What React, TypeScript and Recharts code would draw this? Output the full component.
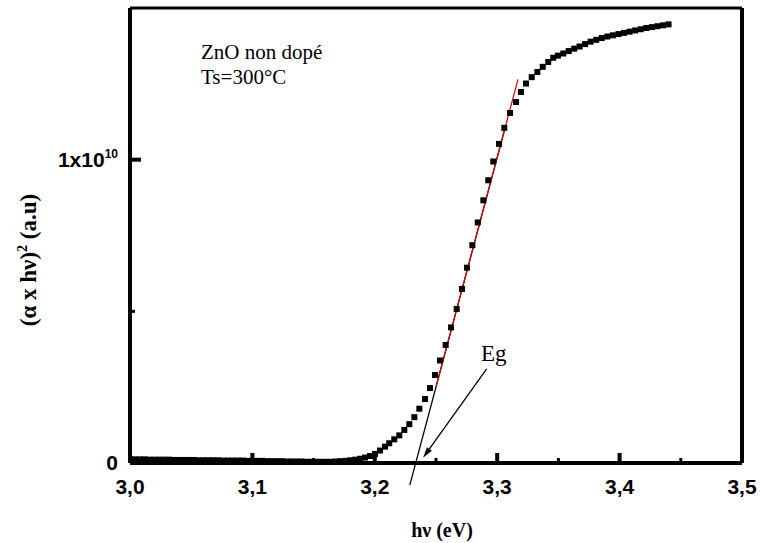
import { ScatterChart, Scatter, XAxis, YAxis, ReferenceLine } from 'recharts';

// (alpha x hv)^2 vs photon energy for undoped ZnO, Tauc plot. Values in units of 1e10.
const HV = [
  3.000, 3.004, 3.008, 3.012, 3.016, 3.020, 3.024, 3.028, 3.032, 3.036,
  3.040, 3.044, 3.048, 3.052, 3.056, 3.060, 3.064, 3.068, 3.072, 3.076,
  3.080, 3.084, 3.088, 3.092, 3.096, 3.100, 3.104, 3.108, 3.112, 3.116,
  3.120, 3.124, 3.128, 3.132, 3.136, 3.140, 3.144, 3.148, 3.152, 3.156,
  3.160, 3.164, 3.168, 3.172, 3.176, 3.180, 3.184, 3.188, 3.192,
  3.1961, 3.2002, 3.2042, 3.2083, 3.2118, 3.2159, 3.2200, 3.2241, 3.2282, 3.2323,
  3.2364, 3.2410, 3.2451, 3.2492, 3.2533, 3.2579, 3.2623, 3.2669, 3.2712, 3.2753,
  3.2797, 3.2841, 3.2887, 3.2927, 3.2968, 3.3015, 3.3058, 3.3105, 3.3154, 3.3194,
  3.3235, 3.3282, 3.3328, 3.3372, 3.3417, 3.3458, 3.3496,
  3.3540, 3.3584, 3.3629, 3.3673, 3.3718, 3.3763, 3.3809, 3.3854, 3.3900, 3.3945,
  3.3991, 3.4036, 3.4082, 3.4127, 3.4173, 3.4218, 3.4264, 3.4309, 3.4355, 3.4400,
];
const ALPHA_HV2 = [
  0.012, 0.012, 0.012, 0.012, 0.011, 0.011, 0.011, 0.011, 0.011, 0.010,
  0.010, 0.010, 0.010, 0.010, 0.009, 0.009, 0.009, 0.009, 0.009, 0.008,
  0.008, 0.008, 0.008, 0.008, 0.007, 0.007, 0.007, 0.007, 0.006, 0.006,
  0.006, 0.006, 0.005, 0.005, 0.005, 0.005, 0.004, 0.004, 0.004, 0.004,
  0.004, 0.004, 0.005, 0.006, 0.007, 0.009, 0.011, 0.014, 0.018,
  0.023, 0.030, 0.041, 0.054, 0.065, 0.078, 0.091, 0.109, 0.128, 0.151,
  0.179, 0.211, 0.247, 0.290, 0.338, 0.389, 0.447, 0.508, 0.574, 0.644,
  0.718, 0.793, 0.866, 0.932, 0.994, 1.052, 1.105, 1.154, 1.190, 1.223,
  1.251, 1.272, 1.289, 1.306, 1.322, 1.336, 1.343,
  1.350, 1.358, 1.366, 1.373, 1.381, 1.389, 1.395, 1.401, 1.406, 1.410,
  1.414, 1.418, 1.422, 1.426, 1.430, 1.434, 1.437, 1.440, 1.443, 1.446,
];

const X_TICKS = [3.0, 3.05, 3.1, 3.15, 3.2, 3.25, 3.3, 3.35, 3.4, 3.45, 3.5];
const X_MAJOR = [3.0, 3.1, 3.2, 3.3, 3.4, 3.5];
const Y_TICKS = [0, 0.5, 1];

// linear fit of the absorption edge (intercept = Eg), and the arrow from the "Eg" note
const FIT_BLACK = [{ x: 3.2286, y: -0.073 }, { x: 3.3064, y: 1.104 }];
const FIT_RED = [{ x: 3.25, y: 0.251 }, { x: 3.317, y: 1.265 }];
const ARROW = [{ x: 3.2914, y: 0.31 }, { x: 3.2394, y: 0.017 }];

const points = HV.map((x, i) => ({ x, y: ALPHA_HV2[i] }));

const SANS = '"Liberation Sans", Arial, sans-serif';
const SERIF = '"Liberation Serif", "Times New Roman", serif';

const XTick = ({ x, y, payload }: any) => {
  const major = X_MAJOR.some(v => Math.abs(v - payload.value) < 1e-6);
  return (
    <g>
      <line x1={x} y1={y} x2={x} y2={y - (major ? 10 : 5)} stroke="#000" strokeWidth={major ? 4 : 3} />
      {major && (
        <text x={x} y={y + 31} textAnchor="middle" fontFamily={SANS} fontWeight="bold" fontSize={21} fill="#000">
          {payload.value.toFixed(1).replace('.', ',')}
        </text>
      )}
    </g>
  );
};

const YTick = ({ x, y, payload }: any) => {
  const v = payload.value;
  const major = v === 0 || v === 1;
  return (
    <g>
      <line x1={x} y1={y} x2={x + (major ? 11 : 5)} y2={y} stroke="#000" strokeWidth={major ? 4 : 3} />
      {v === 0 && (
        <text x={x - 12} y={y + 7} textAnchor="end" fontFamily={SANS} fontWeight="bold" fontSize={21} fill="#000">0</text>
      )}
      {v === 1 && (
        <text x={x - 12} y={y + 7} textAnchor="end" fontFamily={SANS} fontWeight="bold" fontSize={21} fill="#000">
          1x10<tspan fontSize={12} dy={-9}>10</tspan>
        </text>
      )}
    </g>
  );
};

const Square = ({ cx, cy }: any) => <rect x={cx - 3} y={cy - 3} width={6} height={6} fill="#000" />;

const Arrow = (p: any) => {
  const { x1, y1, x2, y2 } = p;
  const a = Math.atan2(y2 - y1, x2 - x1);
  const L = 11, W = 3;
  const bx = x2 - L * Math.cos(a), by = y2 - L * Math.sin(a);
  const nx = -Math.sin(a) * W, ny = Math.cos(a) * W;
  return (
    <g>
      <line x1={x1} y1={y1} x2={bx} y2={by} stroke="#000" strokeWidth={1.3} />
      <polygon points={`${x2},${y2} ${bx + nx},${by + ny} ${bx - nx},${by - ny}`} fill="#000" />
    </g>
  );
};

export default function App() {
  return (
    <div style={{ position: 'absolute', left: 0, top: 0, width: 760, height: 543, background: '#fff' }}>
      <ScatterChart width={760} height={543} margin={{ top: 8, right: 18, bottom: 50, left: 0 }}>
        <XAxis type="number" dataKey="x" domain={[3.0, 3.5]} ticks={X_TICKS} interval={0} height={30}
          tickSize={0} tickMargin={0} tickLine={false} tick={<XTick />}
          axisLine={{ stroke: '#000', strokeWidth: 4 }} allowDataOverflow />
        <YAxis type="number" dataKey="y" domain={[0, 1.5]} ticks={Y_TICKS} interval={0} width={130}
          tickSize={0} tickMargin={0} tickLine={false} tick={<YTick />}
          axisLine={{ stroke: '#000', strokeWidth: 4 }} allowDataOverflow />
        <ReferenceLine y={1.5} stroke="#000" strokeWidth={3} />
        <ReferenceLine x={3.5} stroke="#000" strokeWidth={4} />
        <ReferenceLine segment={FIT_BLACK} stroke="#000" strokeWidth={1.3} ifOverflow="visible" />
        <ReferenceLine segment={FIT_RED} stroke="#e00000" strokeWidth={1.2} ifOverflow="visible" />
        <ReferenceLine segment={ARROW} shape={<Arrow />} ifOverflow="visible" />
        <Scatter data={points} shape={<Square />} isAnimationActive={false} />
      </ScatterChart>
      <svg width={760} height={543} style={{ position: 'absolute', left: 0, top: 0, pointerEvents: 'none' }}>
        <text x={201} y={59} fontFamily={SERIF} fontSize={21} fill="#000">ZnO non dopé</text>
        <text x={201} y={84} fontFamily={SERIF} fontSize={21} fill="#000">Ts=300°C</text>
        <text x={481} y={361} fontFamily={SERIF} fontSize={23} fill="#000">Eg</text>
        <text x={442} y={537} textAnchor="middle" fontFamily={SERIF} fontWeight="bold" fontSize={20} fill="#000">hν (eV)</text>
        <text x={36} y={260} transform="rotate(-90 36 260)" textAnchor="middle" fontFamily={SERIF} fontWeight="bold" fontSize={23} fill="#000">
          (α x hν)<tspan fontSize={14} dy={-9}>2</tspan><tspan dy={9}> (a.u)</tspan>
        </text>
      </svg>
    </div>
  );
}
